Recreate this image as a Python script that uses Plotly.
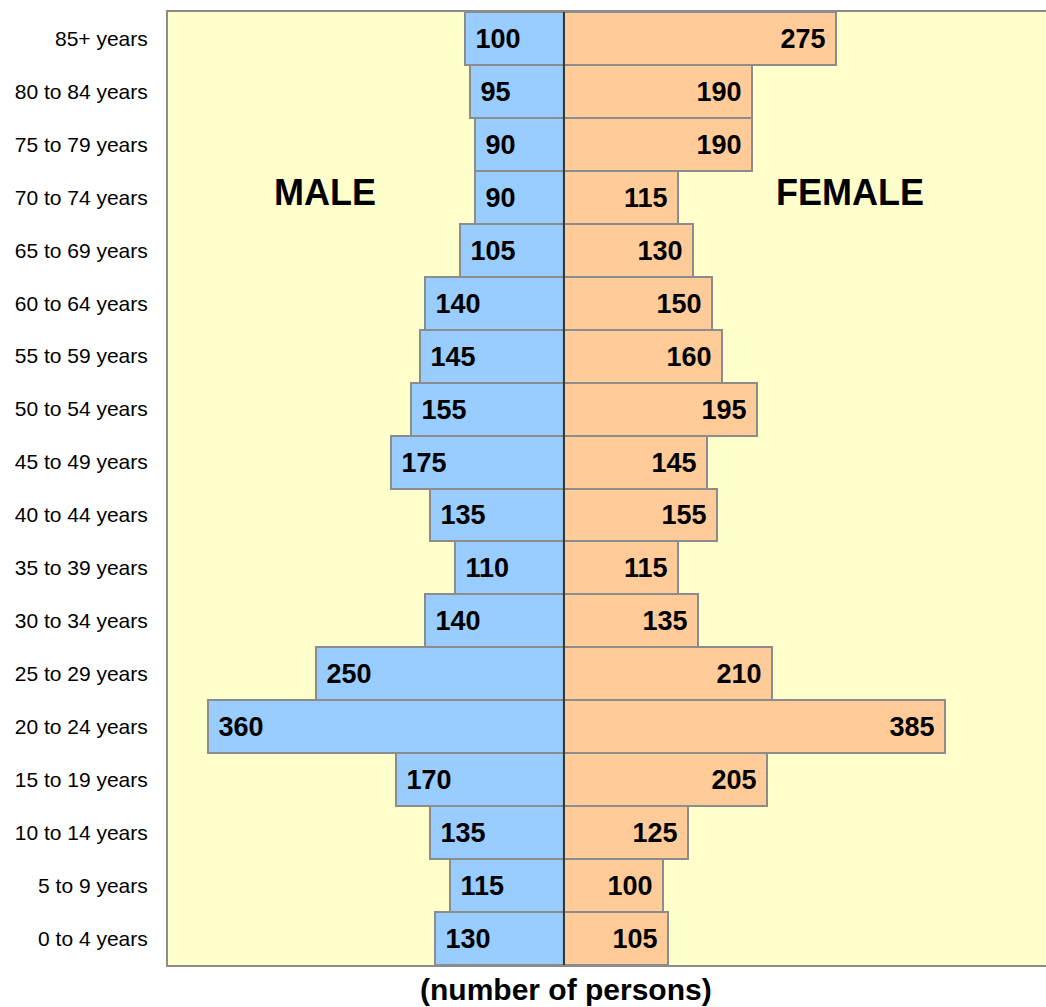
import plotly.graph_objects as go

age_groups = ["0 to 4 years", "5 to 9 years", "10 to 14 years", "15 to 19 years",
              "20 to 24 years", "25 to 29 years", "30 to 34 years", "35 to 39 years",
              "40 to 44 years", "45 to 49 years", "50 to 54 years", "55 to 59 years",
              "60 to 64 years", "65 to 69 years", "70 to 74 years", "75 to 79 years",
              "80 to 84 years", "85+ years"]
male = [130, 115, 135, 170, 360, 250, 140, 110, 135, 175, 155, 145, 140, 105, 90, 90, 95, 100]
female = [105, 100, 125, 205, 385, 210, 135, 115, 155, 145, 195, 160, 150, 130, 115, 190, 190, 275]

label_font = dict(family="Liberation Sans, Arial, sans-serif", size=27, color="black", weight="bold")

fig = go.Figure()
fig.add_trace(go.Bar(
    y=age_groups, x=[-v for v in male], orientation="h",
    marker=dict(color="#99CCFF", line=dict(color="#8c8c8c", width=2)),
    text=[" " + str(v) for v in male], textposition="inside", insidetextanchor="end",
    textfont=label_font, constraintext="none", textangle=0, hoverinfo="skip",
))
fig.add_trace(go.Bar(
    y=age_groups, x=female, orientation="h",
    marker=dict(color="#FFCC99", line=dict(color="#8c8c8c", width=2)),
    text=[str(v) + " " for v in female], textposition="inside", insidetextanchor="end",
    textfont=label_font, constraintext="none", textangle=0, hoverinfo="skip",
))

fig.update_layout(
    width=1046, height=1007,
    margin=dict(l=168, r=0, t=12, b=42),
    barmode="relative", bargap=0,
    plot_bgcolor="#FFFFCC", paper_bgcolor="white",
    showlegend=False,
    xaxis=dict(range=[-400, 487], showticklabels=False, showgrid=False, zeroline=False,
               showline=True, mirror=True, linecolor="#8c8c8c", linewidth=2, ticks=""),
    yaxis=dict(showgrid=False, zeroline=False, showline=True, linecolor="#8c8c8c", linewidth=2,
               ticks="", ticklabelstandoff=14,
               tickfont=dict(family="Liberation Sans Narrow, Arial Narrow, Liberation Sans, sans-serif",
                             size=21, color="black")),
    shapes=[dict(type="line", xref="x", yref="paper", x0=0, x1=0, y0=0, y1=1,
                 line=dict(color="#333333", width=2), layer="above")],
    annotations=[
        dict(text="<b>MALE</b>", x=-241, y="70 to 74 years", xref="x", yref="y", showarrow=False,
             yshift=5, font=dict(family="Liberation Sans, Arial, sans-serif", size=36, color="black")),
        dict(text="<b>FEMALE</b>", x=289, y="70 to 74 years", xref="x", yref="y", showarrow=False,
             yshift=5, font=dict(family="Liberation Sans, Arial, sans-serif", size=36, color="black")),
        dict(text="<b>(number of persons)</b>", x=2, y=-0.026, xref="x", yref="paper",
             showarrow=False, yanchor="middle",
             font=dict(family="Liberation Sans, Arial, sans-serif", size=30, color="black")),
    ],
)

fig.write_html("out.html", config={"displayModeBar": False},
               post_script="document.body.style.margin='0';document.body.style.overflow='hidden';")
